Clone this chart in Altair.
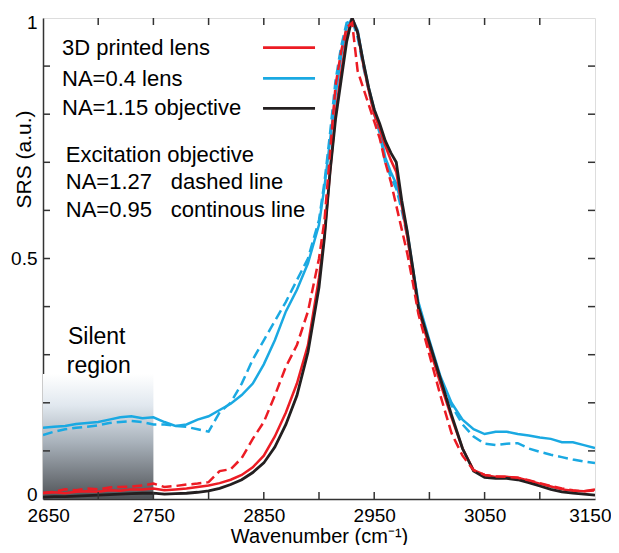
import altair as alt
import pandas as pd

# ---------------- data ----------------
wn = [2650, 2660, 2670, 2680, 2690, 2700, 2710, 2720, 2730, 2740,
      2750, 2760, 2770, 2780, 2790, 2800, 2810, 2820, 2830, 2840,
      2850, 2860, 2870, 2880, 2890, 2900, 2905, 2910, 2915, 2920,
      2925, 2930, 2935, 2940, 2945, 2950, 2955, 2960, 2965, 2970,
      2975, 2980, 2985, 2990, 3000, 3010, 3020, 3030, 3040, 3050,
      3060, 3070, 3080, 3090, 3100, 3110, 3120, 3130, 3140, 3150]

black_solid = [0.004, 0.005, 0.005, 0.006, 0.007, 0.008, 0.009, 0.010, 0.011, 0.012,
               0.012, 0.010, 0.011, 0.012, 0.014, 0.017, 0.022, 0.030, 0.040, 0.055,
               0.075, 0.108, 0.155, 0.215, 0.305, 0.44, 0.545, 0.68, 0.79, 0.87,
               0.95, 1.0, 0.97, 0.91, 0.855, 0.81, 0.78, 0.745, 0.72, 0.70,
               0.62, 0.555, 0.48, 0.40, 0.325, 0.25, 0.175, 0.105, 0.058, 0.045,
               0.043, 0.043, 0.040, 0.034, 0.027, 0.020, 0.015, 0.012, 0.010, 0.008]

red_solid = [0.012, 0.014, 0.012, 0.015, 0.016, 0.015, 0.018, 0.017, 0.020, 0.020,
             0.022, 0.018, 0.020, 0.022, 0.025, 0.028, 0.033, 0.040, 0.050, 0.066,
             0.090, 0.130, 0.180, 0.240, 0.320, 0.46, 0.55, 0.68, 0.80, 0.885,
             0.96, 1.0, 0.97, 0.905, 0.85, 0.80, 0.77, 0.735, 0.705, 0.68,
             0.61, 0.545, 0.47, 0.395, 0.315, 0.24, 0.17, 0.105, 0.060, 0.050,
             0.046, 0.046, 0.044, 0.038, 0.032, 0.026, 0.020, 0.017, 0.016, 0.020]

red_dashed = [0.013, 0.015, 0.020, 0.018, 0.022, 0.020, 0.024, 0.025, 0.026, 0.028,
              0.032, 0.025, 0.027, 0.030, 0.032, 0.035, 0.058, 0.062, 0.085, 0.125,
              0.160, 0.215, 0.275, 0.320, 0.390, 0.50, 0.58, 0.72, 0.86, 0.93,
              0.98, 0.99, 0.89, 0.855, 0.82, 0.785, 0.75, 0.70, 0.66, 0.61,
              0.56, 0.51, 0.45, 0.385, 0.30, 0.215, 0.137, 0.090, 0.060, 0.050,
              0.047, 0.046, 0.044, 0.039, 0.033, 0.027, 0.022, 0.018, 0.016, 0.018]

blue_solid = [0.148, 0.150, 0.152, 0.156, 0.158, 0.160, 0.165, 0.170, 0.172, 0.168,
              0.170, 0.160, 0.152, 0.155, 0.165, 0.172, 0.185, 0.198, 0.216, 0.240,
              0.280, 0.330, 0.390, 0.435, 0.490, 0.57, 0.65, 0.745, 0.84, 0.92,
              0.98, 1.0, 0.975, 0.91, 0.855, 0.81, 0.77, 0.71, 0.68, 0.655,
              0.61, 0.555, 0.48, 0.41, 0.33, 0.255, 0.20, 0.165, 0.145, 0.135,
              0.140, 0.140, 0.135, 0.132, 0.128, 0.125, 0.118, 0.118, 0.112, 0.106]

blue_dashed = [0.133, 0.140, 0.145, 0.148, 0.150, 0.153, 0.158, 0.160, 0.162, 0.160,
               0.155, 0.155, 0.152, 0.150, 0.145, 0.140, 0.180, 0.200, 0.240, 0.290,
               0.330, 0.370, 0.410, 0.455, 0.500, 0.58, 0.66, 0.76, 0.87, 0.94,
               0.99, 0.995, 0.96, 0.90, 0.85, 0.80, 0.76, 0.70, 0.67, 0.645,
               0.60, 0.545, 0.475, 0.405, 0.325, 0.25, 0.195, 0.155, 0.130, 0.115,
               0.112, 0.115, 0.116, 0.105, 0.098, 0.092, 0.087, 0.082, 0.078, 0.075]

x_labels = [2650, 2750, 2850, 2950, 3050, 3150]
x_ticks = [2700, 2750, 2800, 2850, 2900, 2950, 3000, 3050, 3100]
y_labels = [0, 0.5, 1]
y_ticks = [0.1, 0.2, 0.3, 0.4, 0.5, 0.6, 0.7, 0.8, 0.9]

legend_names = ["3D printed lens", "NA=0.4 lens", "NA=1.15 objective"]
legend_colors = ["#ec1c24", "#1aa9e2", "#231f20"]

note_left = ["Excitation objective", "NA=1.27", "NA=0.95"]
note_right = ["dashed line", "continous line"]
silent_text = ["Silent", "region"]

# ---------------- styling ----------------
W, H = 552, 481
FONT = "Liberation Sans"
RED, BLUE, BLACK = legend_colors
AXC = "#333333"

xscale = alt.Scale(domain=[2650, 3150], nice=False, zero=False)
yscale = alt.Scale(domain=[0, 1], nice=False, zero=False)

xaxis = alt.Axis(values=x_labels, format="d", ticks=False, grid=False,
                 labelFlush=True, labelFlushOffset=16,
                 labelFontSize=19, labelFont=FONT, labelColor="black", labelPadding=7,
                 domainColor=AXC, domainWidth=1.5,
                 title="Wavenumber (cm⁻¹)", titleFont=FONT, titleFontSize=20,
                 titleFontWeight="normal", titleColor="black",
                 titleBaseline="alphabetic", titleY=43)
yaxis = alt.Axis(values=y_labels, format="~g", ticks=False, grid=False,
                 labelFlush=True, labelFlushOffset=5,
                 labelFontSize=19, labelFont=FONT, labelColor="black", labelPadding=6,
                 domainColor=AXC, domainWidth=1.5,
                 title="SRS (a.u.)", titleFont=FONT, titleFontSize=21,
                 titleFontWeight="normal", titleColor="black",
                 titleBaseline="alphabetic", titleX=-13, titleY=141)

X = alt.X("wn:Q", scale=xscale, axis=xaxis)
Y = alt.Y("v:Q", scale=yscale, axis=yaxis)

# silent region gradient
grad_df = pd.DataFrame({"wn": [2650], "wn2": [2750], "v": [0.0], "v2": [0.26]})
gradient = alt.Chart(grad_df).mark_rect(
    color={"gradient": "linear", "x1": 0, "y1": 0, "x2": 0, "y2": 1,
           "stops": [{"offset": 0.0, "color": "#ffffff"},
                     {"offset": 0.25, "color": "#e1e8ef"},
                     {"offset": 0.55, "color": "#a8b1ba"},
                     {"offset": 1.0, "color": "#505357"}]}
).encode(x=X, x2="wn2:Q", y=Y, y2="v2:Q")


def line(vals, color, dashed, width=2.5):
    df = pd.DataFrame({"wn": wn, "v": vals})
    kw = dict(color=color, strokeWidth=width, clip=True)
    if dashed:
        kw["strokeDash"] = [10, 5]
    return alt.Chart(df).mark_line(**kw).encode(x=X, y=Y)


lines = [
    line(blue_dashed, BLUE, True),
    line(blue_solid, BLUE, False),
    line(red_solid, RED, False),
    line(black_solid, BLACK, False, 2.8),
    line(red_dashed, RED, True),
]

# inward ticks
xt = pd.DataFrame({"wn": x_ticks})
yt = pd.DataFrame({"v": y_ticks})
tick_kw = dict(color=AXC, strokeWidth=1.5)
ticks = [
    alt.Chart(xt).mark_rule(**tick_kw).encode(x=X, y=alt.value(H), y2=alt.value(H - 7)),
    alt.Chart(xt).mark_rule(**tick_kw).encode(x=X, y=alt.value(0), y2=alt.value(7)),
    alt.Chart(yt).mark_rule(**tick_kw).encode(y=Y, x=alt.value(0), x2=alt.value(7)),
    alt.Chart(yt).mark_rule(**tick_kw).encode(y=Y, x=alt.value(W), x2=alt.value(W - 7)),
]

# legend (text + line swatches)
leg_text = pd.DataFrame({"wn": [2667.2] * 3, "v": [0.9231, 0.8586, 0.7983], "t": legend_names})
leg_lines = pd.DataFrame({"wn": [2849.3] * 3, "wn2": [2896.4] * 3,
                          "v": [0.9383, 0.8746, 0.8123], "c": legend_colors})
legend_t = alt.Chart(leg_text).mark_text(
    align="left", baseline="alphabetic", font=FONT, fontSize=22, color="black"
).encode(x=X, y=Y, text="t:N")
legend_l = alt.Chart(leg_lines).mark_rule(strokeWidth=2.8).encode(
    x=X, x2="wn2:Q", y=Y,
    color=alt.Color("c:N", scale=None))

notes_l = pd.DataFrame({"wn": [2670.6] * 3, "v": [0.7012, 0.6439, 0.5863], "t": note_left})
notes_r = pd.DataFrame({"wn": [2765.7] * 2, "v": [0.6439, 0.5863], "t": note_right})
silent = pd.DataFrame({"wn": [2672.6, 2671.5], "v": [0.3222, 0.2613], "t": silent_text})

txt_kw = dict(align="left", baseline="alphabetic", font=FONT, color="black")
note1 = alt.Chart(notes_l).mark_text(fontSize=22, **txt_kw).encode(x=X, y=Y, text="t:N")
note2 = alt.Chart(notes_r).mark_text(fontSize=22, **txt_kw).encode(x=X, y=Y, text="t:N")
silent_t = alt.Chart(silent).mark_text(fontSize=23, **txt_kw).encode(x=X, y=Y, text="t:N")

chart = alt.layer(
    gradient, *lines, *ticks, legend_l, legend_t, note1, note2, silent_t
).properties(
    width=W, height=H,
    autosize=alt.AutoSizeParams(type="none"),
    padding={"left": 35, "top": 10, "right": 16, "bottom": 46},
).configure_view(stroke=AXC, strokeWidth=1.5).configure(background="white")

chart.save("out.html", embed_options={"renderer": "svg", "actions": False})
